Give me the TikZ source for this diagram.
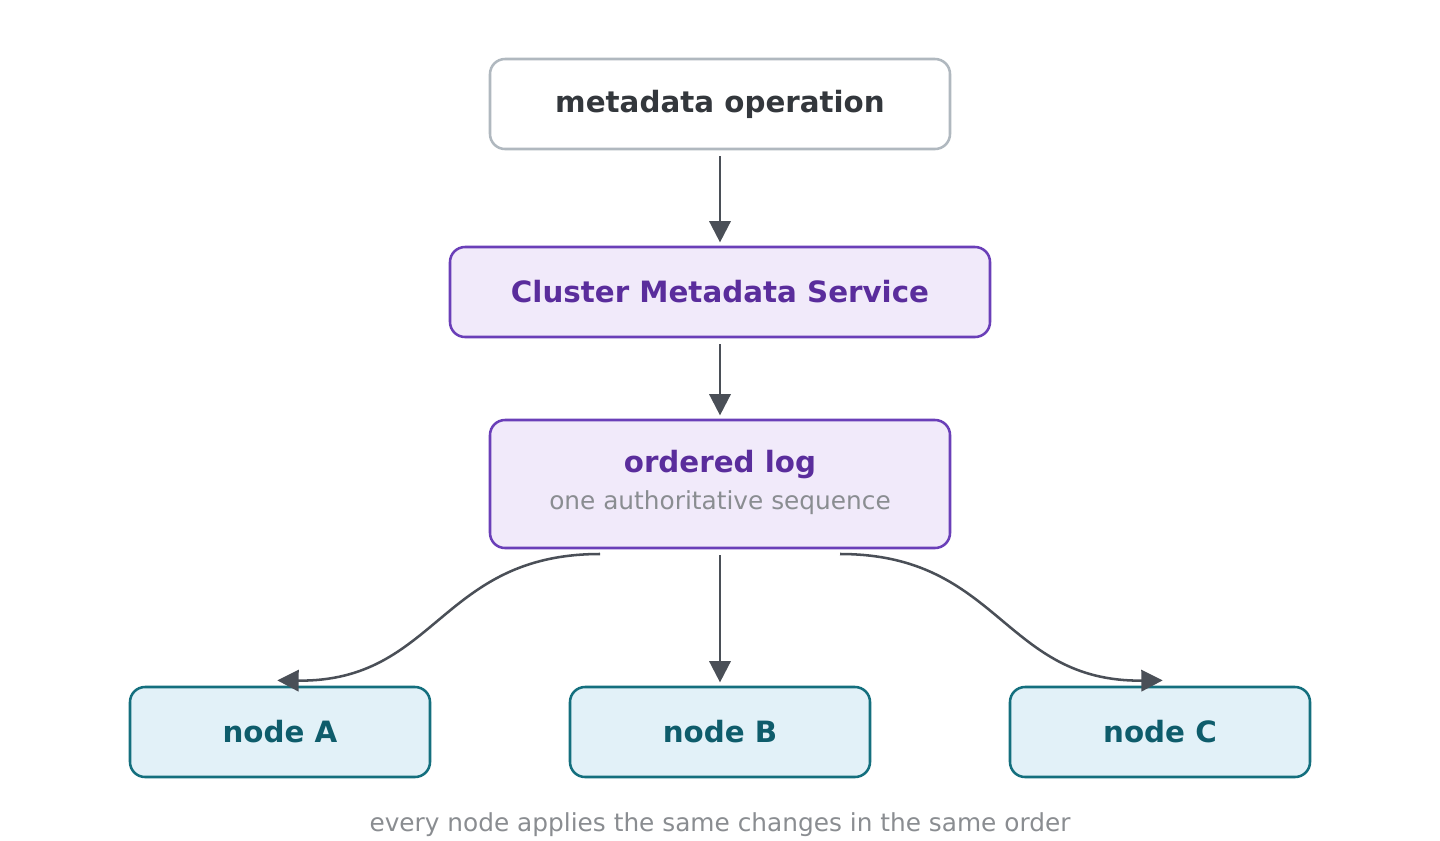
\documentclass[tikz,border=0pt]{standalone}
\usepackage{fontspec}
\setmainfont{DejaVu Sans}
\usetikzlibrary{positioning}
\usetikzlibrary{arrows.meta}
\definecolor{inkdark}{HTML}{4A4F57}
\definecolor{graybd}{HTML}{B0B8BF}
\definecolor{graytx}{HTML}{33373C}
\definecolor{purplebg}{HTML}{F1EAFA}
\definecolor{purplebd}{HTML}{6A3FB8}
\definecolor{purpletx}{HTML}{5A2D9C}
\definecolor{tealbg}{HTML}{E2F1F8}
\definecolor{tealbd}{HTML}{146F7E}
\definecolor{tealtx}{HTML}{0E5C6B}
\definecolor{notetx}{HTML}{8A8D91}
\tikzset{
  box/.style={rectangle, rounded corners=11.25pt, line width=1.9pt, align=center,
    font=\bfseries\fontsize{22}{26}\selectfont},
  opbox/.style={box, draw=graybd, fill=white, text=graytx,
    minimum width=345pt, minimum height=67.5pt},
  svcbox/.style={box, draw=purplebd, fill=purplebg, text=purpletx},
  peerbox/.style={box, draw=tealbd, fill=tealbg, text=tealtx,
    minimum width=225pt, minimum height=67.5pt},
  flow/.style={draw=inkdark, line width=1.9pt, -{Triangle[length=16pt,width=16pt]}},
  note/.style={text=notetx, font=\fontsize{18.6}{22}\selectfont},
}
\begin{document}
\begin{tikzpicture}[x=0.75pt, y=-0.75pt]
  \useasboundingbox (0,0) rectangle (1440,840);

  % Define nodes
  \node[opbox] (op) at (720,104) {metadata operation};
  \node[svcbox, minimum width=405pt, minimum height=67.5pt] (cms) at (720,292) {Cluster Metadata Service};
  \node[svcbox, minimum width=345pt, minimum height=96pt] (log) at (720,484) {};
  \node[text=purpletx, font=\bfseries\fontsize{22}{26}\selectfont] (logtitle) at (720,465) {ordered log};
  \node[note] (logsub) at (720,503) {one authoritative sequence};

  \node[peerbox] (nodeA) at (280,732) {node A};
  \node[peerbox] (nodeB) at (720,732) {node B};
  \node[peerbox] (nodeC) at (1160,732) {node C};

  \node[note] (footer) at (720,825) {every node applies the same changes in the same order};

  \coordinate (logL) at (600,554);
  \coordinate (logR) at (840,554);

  % Connect nodes
  \draw[flow] ([yshift=-4.5pt]op.south) -- ([yshift=2.5pt]cms.north);
  \draw[flow] ([yshift=-4.5pt]cms.south) -- ([yshift=2.5pt]log.north);
  \draw[flow] ([yshift=-4.5pt]log.south) -- ([yshift=2.5pt]nodeB.north);
  \draw[flow] (logL) .. controls (440,554) and (437,682) .. ([xshift=-2pt,yshift=4pt]nodeA.north);
  \draw[flow] (logR) .. controls (1000,554) and (1003,682) .. ([xshift=2pt,yshift=4pt]nodeC.north);

\end{tikzpicture}
\end{document}
